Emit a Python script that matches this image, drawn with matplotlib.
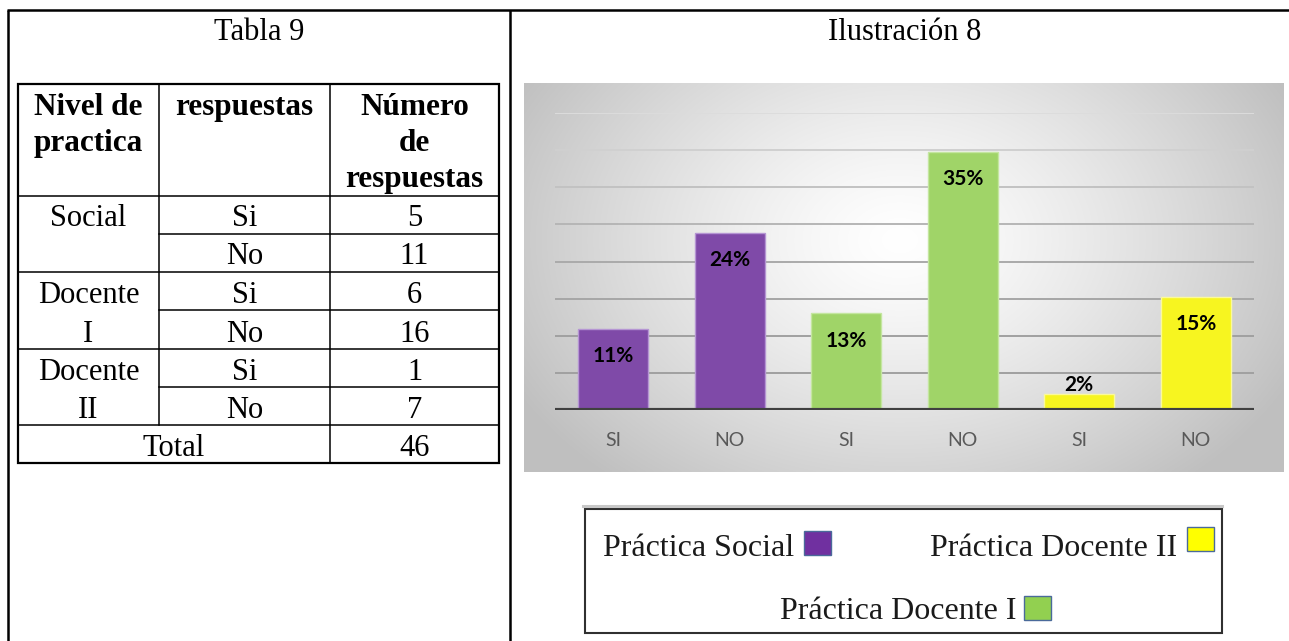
import numpy as np
import matplotlib
matplotlib.use("Agg")
import matplotlib.pyplot as plt
from matplotlib.patches import Rectangle

# ---------------- data ----------------
categories = ["SI", "NO", "SI", "NO", "SI", "NO"]
percent_values = [10.9, 23.9, 13.0, 34.8, 2.2, 15.2]
percent_labels = ["11%", "24%", "13%", "35%", "2%", "15%"]
bar_groups = ["Social", "Social", "Docente I", "Docente I", "Docente II", "Docente II"]

table_levels = ["Social", "Docente\nI", "Docente\nII"]
table_answers = ["Si", "No", "Si", "No", "Si", "No"]
table_counts = ["5", "11", "6", "16", "1", "7"]
table_total = "46"
header_cols = ["Nivel de\npractica", "respuestas", "Número\nde\nrespuestas"]

legend_names = ["Práctica Social", "Práctica Docente II", "Práctica Docente I"]

# ---------------- style ----------------
W, H = 1289, 641
fig = plt.figure(figsize=(W / 100, H / 100), dpi=100)
SERIF = "Liberation Serif"
SANS = "Lato"
TS = 22  # serif text size
LS = 23  # legend text size

bar_fill = {"Social": "#7f4aa8", "Docente I": "#a0d468", "Docente II": "#f7f520"}
bar_edge = {"Social": "#b595d3", "Docente I": "#c4e6a0", "Docente II": "#fbfa9a"}
legend_fill = {"Práctica Social": "#7030a0", "Práctica Docente II": "#ffff00",
               "Práctica Docente I": "#92d050"}


def fx(x):
    return x / W


def fy(y):
    return 1 - y / H


# ---------------- gradient panel ----------------
px0, px1, py0, py1 = 524, 1284, 83, 472
axg = fig.add_axes([fx(px0), fy(py1), fx(px1 - px0), (py1 - py0) / H], zorder=0)
xx, yy = np.meshgrid(np.linspace(px0, px1, 400), np.linspace(py0, py1, 220))
d = np.sqrt(((xx - 900) / 400) ** 2 + ((yy - 240) / 290) ** 2)
v = 1 - 0.25 * np.clip(d / 1.1, 0, 1) ** 1.3
img = np.dstack([v, v, v])
axg.imshow(img, extent=[px0, px1, py1, py0], aspect="auto", interpolation="bilinear")
axg.set_xlim(px0, px1)
axg.set_ylim(py1, py0)
axg.axis("off")

# ---------------- overlay (pixel coordinates) ----------------
ov = fig.add_axes([0, 0, 1, 1], zorder=1)
ov.set_xlim(0, W)
ov.set_ylim(H, 0)
ov.axis("off")
ov.patch.set_alpha(0)

# outer frame
ov.plot([8, 8], [10, H], color="black", lw=1.8, solid_capstyle="butt")
ov.plot([7, W], [10, 10], color="black", lw=1.8, solid_capstyle="butt")
ov.plot([509.5, 509.5], [10, H], color="black", lw=1.8, solid_capstyle="butt")

ov.text(259, 40, "Tabla 9", family=SERIF, fontsize=TS, ha="center", va="baseline")
ov.text(905, 40, "Ilustración 8", family=SERIF, fontsize=TS, ha="center", va="baseline")

# table geometry
cx = [18, 159, 330, 499]
ry = [84, 195.5, 233.5, 271.5, 310, 349, 387, 425, 463]
ov.add_patch(Rectangle((cx[0], ry[0]), cx[3] - cx[0], ry[-1] - ry[0], fill=False,
                       ec="black", lw=1.6))
for y in [ry[1], ry[3], ry[5], ry[7]]:
    ov.plot([cx[0], cx[3]], [y, y], color="black", lw=1.1)
for y in [ry[2], ry[4], ry[6]]:
    ov.plot([cx[1], cx[3]], [y, y], color="black", lw=1.1)
ov.plot([cx[1], cx[1]], [ry[0], ry[7]], color="black", lw=1.1)
ov.plot([cx[2], cx[2]], [ry[0], ry[8]], color="black", lw=1.1)

# header
col_centers = [(cx[0] + cx[1]) / 2, (cx[1] + cx[2]) / 2, (cx[2] + cx[3]) / 2]
for c, txt in zip(col_centers, header_cols):
    for k, line in enumerate(txt.split("\n")):
        ov.text(c, 115 + 36 * k, line, family=SERIF, fontsize=TS + 0.5, fontweight="bold",
                ha="center", va="baseline")

# body
for i, (a, n) in enumerate(zip(table_answers, table_counts)):
    base = ry[i + 2] - 7
    ov.text(col_centers[1], base, a, family=SERIF, fontsize=TS, ha="center", va="baseline")
    ov.text(col_centers[2], base, n, family=SERIF, fontsize=TS, ha="center", va="baseline")
for g, lvl in enumerate(table_levels):
    for k, line in enumerate(lvl.split("\n")):
        ov.text(col_centers[0], ry[2 * g + 2 + k] - 7, line, family=SERIF, fontsize=TS,
                ha="center", va="baseline")
ov.text((cx[0] + cx[2]) / 2, ry[8] - 7, "Total", family=SERIF, fontsize=TS,
        ha="center", va="baseline")
ov.text(col_centers[2], ry[8] - 7, table_total, family=SERIF, fontsize=TS,
        ha="center", va="baseline")

# legend box
ov.plot([583, 1222], [506, 506], color="#c8c8c8", lw=2.2)
ov.add_patch(Rectangle((585, 509), 1222 - 585, 633 - 509, fill=False, ec="#303030", lw=1.5))
leg_pos = {"Práctica Social": (603, 556, 804, 531),
           "Práctica Docente II": (930, 556, 1187, 527),
           "Práctica Docente I": (780, 619, 1024, 596)}
for name in legend_names:
    tx, ty, sx, sy = leg_pos[name]
    ov.text(tx, ty, name, family=SERIF, fontsize=LS, color="#1a1a1a", ha="left",
            va="baseline")
    ov.add_patch(Rectangle((sx, sy), 27, 24, fc=legend_fill[name], ec="#4a6a9a", lw=1.0))

# ---------------- bar chart ----------------
ax0, ax1, ay_top, ay_bot = 555, 1254, 113, 410
ax = fig.add_axes([fx(ax0), fy(ay_bot), fx(ax1 - ax0), (ay_bot - ay_top) / H], zorder=2)
ax.patch.set_alpha(0)
xpos = np.arange(len(categories))
grid_levels = np.arange(5, 45, 5)
grid_cols = ["#a0a0a0", "#a0a0a0", "#a6a6a6", "#aaaaaa", "#b6b6b6", "#c2c2c2",
             "#d0d0d0", "#dcdcdc"]
for gl, gc in zip(grid_levels, grid_cols):
    ax.axhline(gl, color=gc, lw=1.4, zorder=1)

for i, (val, grp) in enumerate(zip(percent_values, bar_groups)):
    ax.bar(xpos[i], val, width=0.6, color=bar_fill[grp], edgecolor=bar_edge[grp],
           lw=1.0, zorder=2)
for i, (val, lab) in enumerate(zip(percent_values, percent_labels)):
    if val < 5:
        ax.annotate(lab, (xpos[i], val), xytext=(0, 6.5), textcoords="offset points",
                    ha="center", va="center", fontsize=15, fontweight="bold",
                    family=SANS, color="black", zorder=4)
    else:
        ax.annotate(lab, (xpos[i], val), xytext=(0, -19.5), textcoords="offset points",
                    ha="center", va="center", fontsize=15, fontweight="bold",
                    family=SANS, color="black", zorder=4)

ax.axhline(0, color="#404040", lw=3, zorder=3)
ax.set_xlim(-0.5, len(categories) - 0.5)
ax.set_ylim(0, 40)
ax.set_xticks(xpos)
ax.set_xticklabels(categories, family=SANS, fontsize=14, color="#595959")
ax.tick_params(axis="x", length=0, pad=16)
ax.set_yticks([])
for s in ax.spines.values():
    s.set_visible(False)

fig.savefig("out.png", dpi=100)
